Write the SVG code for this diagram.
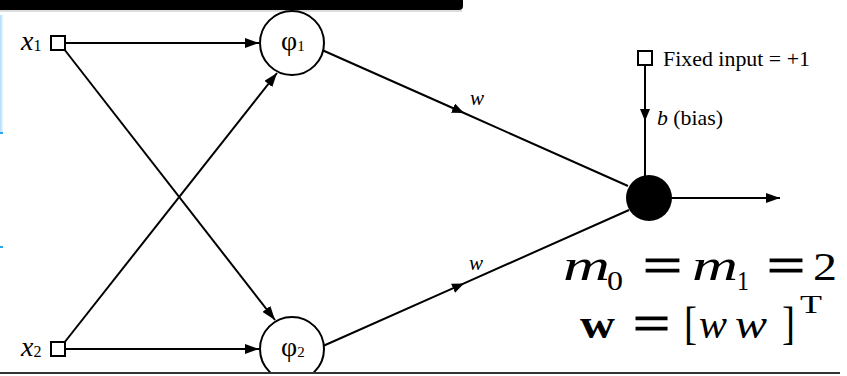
<svg xmlns="http://www.w3.org/2000/svg" width="847" height="376" viewBox="0 0 847 376">
<defs>
<style>
.ln{stroke:#000;stroke-width:2;fill:none}
.sq{fill:#fff;stroke:#000;stroke-width:2}
.nd{fill:#fff;stroke:#000;stroke-width:2}
.lb{font-family:"Liberation Serif","Times New Roman",serif;fill:#000}
.it{font-style:italic}
.mt{font-family:"Liberation Serif","Times New Roman",serif;fill:#000}
.eq{stroke:#000;stroke-width:1.2}
</style>
<marker id="ah" viewBox="0 0 14 10" refX="14" refY="5" markerWidth="14" markerHeight="10" markerUnits="userSpaceOnUse" orient="auto">
<path d="M0,0 L14,5 L0,10 z" fill="#000"/>
</marker>
<marker id="am" viewBox="0 0 12 10" refX="12" refY="5" markerWidth="12" markerHeight="10" markerUnits="userSpaceOnUse" orient="auto">
<path d="M0,0 L12,5 L0,10 z" fill="#000"/>
</marker>
</defs>
<rect width="847" height="376" fill="#fff"/>
<path d="M0,0 H463 V6 Q463,10 459,10 H0 z" fill="#000"/>
<line x1="0" y1="11" x2="462" y2="11" stroke="#bbb" stroke-width="1"/>
<rect x="0" y="15" width="3" height="118" fill="#e3f2fc"/>
<rect x="0" y="15" width="1.5" height="118" fill="#b9e0fa"/>
<rect x="0" y="132" width="3" height="2" fill="#2aa8ee"/>
<rect x="0" y="246" width="3" height="2" fill="#2aa8ee"/>
<g id="connectors">
<line class="ln" x1="66" y1="43" x2="259" y2="43" marker-end="url(#ah)"/>
<line class="ln" x1="66" y1="349" x2="259" y2="349" marker-end="url(#ah)"/>
<line class="ln" x1="64" y1="49" x2="275" y2="320" marker-end="url(#ah)"/>
<line class="ln" x1="64" y1="343" x2="277" y2="73" marker-end="url(#ah)"/>
<path class="ln" d="M322,50 L464,113 L628,186" marker-mid="url(#am)"/>
<path class="ln" d="M323,346 L464,283.4 L629,210" marker-mid="url(#am)"/>
<path class="ln" d="M645,65 L645,121 L645,176" marker-mid="url(#am)"/>
<line class="ln" x1="672" y1="198" x2="780" y2="198" marker-end="url(#ah)"/>
</g>
<g id="x1">
<rect class="sq" x="51" y="36" width="14" height="14"/>
<text class="lb" x="21" y="50" font-size="28"><tspan class="it">x</tspan><tspan font-size="16" dy="1">1</tspan></text>
</g>
<g id="x2">
<rect class="sq" x="51" y="342" width="14" height="14"/>
<text class="lb" x="21" y="356" font-size="28"><tspan class="it">x</tspan><tspan font-size="16" dy="1">2</tspan></text>
</g>
<g id="phi1">
<circle class="nd" cx="292" cy="43" r="32"/>
<text class="lb" x="281" y="50" font-size="28">φ<tspan font-size="15" dy="1">1</tspan></text>
</g>
<g id="phi2">
<circle class="nd" cx="292" cy="349" r="32"/>
<text class="lb" x="281" y="356" font-size="28">φ<tspan font-size="15" dy="1">2</tspan></text>
</g>
<g id="bias">
<rect class="sq" x="638" y="51" width="14" height="14"/>
<text class="lb" x="663" y="66" font-size="21" textLength="147" lengthAdjust="spacingAndGlyphs">Fixed input = +1</text>
<text class="lb" x="657" y="125" font-size="21" textLength="66" lengthAdjust="spacingAndGlyphs"><tspan class="it">b</tspan> (bias)</text>
</g>
<g id="output">
<circle cx="649" cy="198" r="23" fill="#000"/>
</g>
<g id="labels">
<text class="lb it" x="470" y="105" font-size="21">w</text>
<text class="lb it" x="469" y="270" font-size="21">w</text>
</g>
<g id="math">
<text class="mt it" x="563" y="280" font-size="44" textLength="47" lengthAdjust="spacingAndGlyphs">m</text>
<text class="mt" x="607" y="290" font-size="28" textLength="16" lengthAdjust="spacingAndGlyphs">0</text>
<text class="mt eq" x="643" y="283" font-size="52" textLength="39" lengthAdjust="spacingAndGlyphs">=</text>
<text class="mt it" x="692" y="280" font-size="44" textLength="46" lengthAdjust="spacingAndGlyphs">m</text>
<text class="mt" x="737" y="290" font-size="28" textLength="12" lengthAdjust="spacingAndGlyphs">1</text>
<text class="mt eq" x="767" y="283" font-size="52" textLength="38" lengthAdjust="spacingAndGlyphs">=</text>
<text class="mt" x="813" y="280" font-size="40" textLength="24" lengthAdjust="spacingAndGlyphs">2</text>
<text class="mt" x="580" y="338" font-size="42" font-weight="bold" textLength="35" lengthAdjust="spacingAndGlyphs">w</text>
<text class="mt eq" x="633" y="341" font-size="52" textLength="37" lengthAdjust="spacingAndGlyphs">=</text>
<text class="mt" x="684" y="339" font-size="46" textLength="13" lengthAdjust="spacingAndGlyphs">[</text>
<text class="mt it" x="699" y="338" font-size="42" textLength="28" lengthAdjust="spacingAndGlyphs">w</text>
<text class="mt it" x="735" y="338" font-size="42" textLength="32" lengthAdjust="spacingAndGlyphs">w</text>
<text class="mt" x="782" y="339" font-size="46" textLength="13" lengthAdjust="spacingAndGlyphs">]</text>
<text class="mt" x="800" y="313" font-size="26" textLength="22" lengthAdjust="spacingAndGlyphs">T</text>
</g>
<rect x="0" y="374" width="847" height="2" fill="#fff"/>
<line x1="0" y1="373" x2="840" y2="373" stroke="#333" stroke-width="2"/>
</svg>
